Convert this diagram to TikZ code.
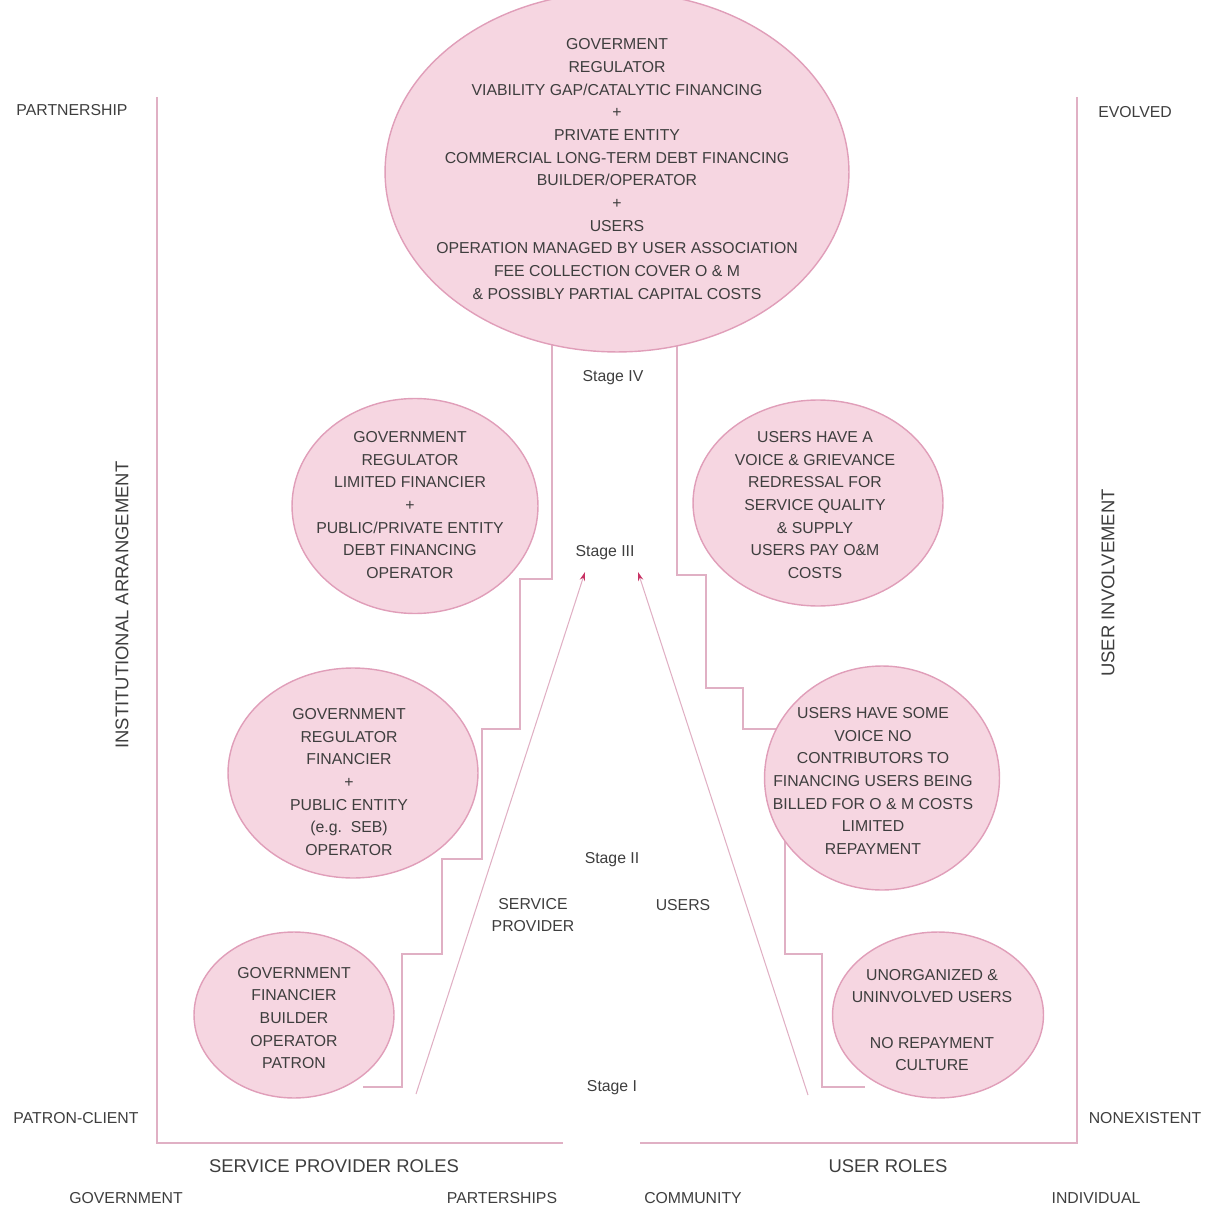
\documentclass[tikz,border=0pt]{standalone}
\usepackage{fontspec}
\setmainfont{Liberation Sans}
\usetikzlibrary{shapes,arrows.meta,positioning}
\definecolor{rolepink}{RGB}{246,214,225}
\definecolor{edgepink}{RGB}{224,158,185}
\definecolor{framepink}{RGB}{224,176,196}
\definecolor{arrowred}{RGB}{200,50,100}
\definecolor{textgray}{RGB}{62,62,62}

\begin{document}
\begin{tikzpicture}[x=0.02cm,y=-0.02cm,font=\fontsize{9}{12.9}\selectfont,text=textgray]

\tikzstyle{role}=[ellipse,draw=edgepink,fill=rolepink,line width=0.8pt,inner sep=0pt]
\tikzstyle{roletext}=[align=center,inner sep=0pt]
\tikzstyle{frame}=[draw=framepink,line width=0.9pt]
\tikzstyle{stair}=[draw=framepink,line width=0.7pt]
\tikzstyle{climb}=[draw=framepink,line width=0.6pt,-{Stealth[length=5pt,width=3pt,color=arrowred]}]
\tikzstyle{axis}=[font=\fontsize{9}{11}\selectfont]
\tikzstyle{roles}=[font=\fontsize{10.5}{12}\selectfont]

\useasboundingbox (0,0) rectangle (1205,1212);

% frame
\draw[frame] (157,97) -- (157,1143) -- (563,1143);
\draw[frame] (1077,97) -- (1077,1143) -- (640,1143);

% stairs
\draw[stair] (552,340) -- (552,579) -- (520,579) -- (520,729) -- (482,729) -- (482,859)
  -- (442,859) -- (442,954) -- (402,954) -- (402,1087) -- (363,1087);
\draw[stair] (677,340) -- (677,575) -- (706,575) -- (706,688) -- (743,688) -- (743,729)
  -- (785,729) -- (785,954) -- (822,954) -- (822,1087) -- (865,1087);

% arrows
\coordinate (sp0) at (416,1094);
\coordinate (sp1) at (585,572);
\coordinate (us0) at (808,1095);
\coordinate (us1) at (638,572);
\draw[climb] (sp0) -- (sp1);
\draw[climb] (us0) -- (us1);

% ellipses
\node[role,minimum width=9.28cm,minimum height=7.2cm] (top) at (617,172) {};
\node[roletext] (toptxt) at (617,169) {GOVERMENT\\REGULATOR\\VIABILITY GAP/CATALYTIC FINANCING\\+\\PRIVATE ENTITY\\COMMERCIAL LONG-TERM DEBT FINANCING\\BUILDER/OPERATOR\\+\\USERS\\OPERATION MANAGED BY USER ASSOCIATION\\FEE COLLECTION COVER O \& M\\\& POSSIBLY PARTIAL CAPITAL COSTS};

\node[role,minimum width=4.92cm,minimum height=4.3cm] (gov3) at (415,506) {};
\node[roletext] (gov3txt) at (410,505) {GOVERNMENT\\REGULATOR\\LIMITED FINANCIER\\+\\PUBLIC/PRIVATE ENTITY\\DEBT FINANCING\\OPERATOR};

\node[role,minimum width=5cm,minimum height=4.12cm] (user3) at (818,503) {};
\node[roletext] (user3txt) at (815,505) {USERS HAVE A\\VOICE \& GRIEVANCE\\REDRESSAL FOR\\SERVICE QUALITY\\\& SUPPLY\\USERS PAY O\&M\\COSTS};

\node[role,minimum width=5cm,minimum height=4.2cm] (gov2) at (353,773) {};
\node[roletext] (gov2txt) at (349,782) {GOVERNMENT\\REGULATOR\\FINANCIER\\+\\PUBLIC ENTITY\\(e.g.\ \ SEB)\\OPERATOR};

\node[role,minimum width=4.7cm,minimum height=4.48cm] (user2) at (882,778) {};
\node[roletext] (user2txt) at (873,781) {USERS HAVE SOME\\VOICE NO\\CONTRIBUTORS TO\\FINANCING USERS BEING\\BILLED FOR O \& M COSTS\\LIMITED\\REPAYMENT};

\node[role,minimum width=4cm,minimum height=3.32cm] (gov1) at (294,1015) {};
\node[roletext] (gov1txt) at (294,1018) {GOVERNMENT\\FINANCIER\\BUILDER\\OPERATOR\\PATRON};

\node[role,minimum width=4.22cm,minimum height=3.32cm] (user1) at (938,1015) {};
\node[roletext] (user1txt) at (932,1020) {UNORGANIZED \&\\UNINVOLVED USERS\\[12.9pt]NO REPAYMENT\\CULTURE};

% stages
\node (st4) at (613,378) {Stage IV};
\node (st3) at (605,553) {Stage III};
\node (st2) at (612,860) {Stage II};
\node (st1) at (612,1088) {Stage I};
\node[roletext] (spname) at (533,915) {SERVICE\\PROVIDER};
\node (usname) at (683,905) {USERS};

% axes
\node[axis] (partner) at (72,110) {PARTNERSHIP};
\node[axis] (patron) at (76,1118) {PATRON-CLIENT};
\node[axis] (evolved) at (1135,112) {EVOLVED};
\node[axis] (nonex) at (1145,1118) {NONEXISTENT};
\node[roles,rotate=90] (instarr) at (122,605) {INSTITUTIONAL ARRANGEMENT};
\node[roles,rotate=90] (userinv) at (1108,583) {USER INVOLVEMENT};
\node[roles] (sproles) at (334,1166) {SERVICE PROVIDER ROLES};
\node[roles] (uroles) at (888,1166) {USER ROLES};
\node[axis] (govt) at (126,1198) {GOVERNMENT};
\node[axis] (parts) at (502,1198) {PARTERSHIPS};
\node[axis] (comm) at (693,1198) {COMMUNITY};
\node[axis] (indiv) at (1096,1198) {INDIVIDUAL};

\end{tikzpicture}
\end{document}
